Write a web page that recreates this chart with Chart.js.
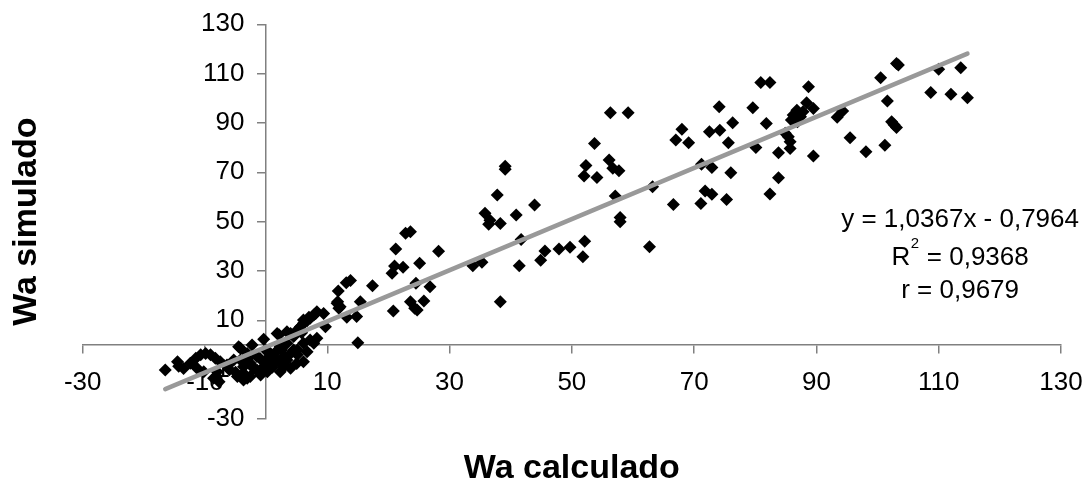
<!DOCTYPE html>
<html>
<head>
<meta charset="utf-8">
<title>Wa simulado vs Wa calculado</title>
<script src="https://cdn.jsdelivr.net/npm/chart.js@4.4.1/dist/chart.umd.min.js"></script>
<style>
    html, body { margin: 0; padding: 0; background: #fff; }
</style>
</head>
<body>
<canvas id="grafico" width="1087" height="484"></canvas>
<script>
// valores (Wa calculado, Wa simulado)
var calculado = [
    -16.5, -14.5, -14.3, -13.5, -12.4, -11.5, -11.3, -10.7, -10.2, -9.9,
    -9.1, -8.6, -8.3, -8.0, -7.7, -7.5, -6.4, -6.0, -5.3, -5.0,
    -4.7, -4.5, -4.2, -4.2, -3.7, -3.7, -3.7, -3.1, -3.1, -3.0,
    -2.6, -2.6, -2.3, -2.0, -1.5, -1.5, -1.0, -0.9, -0.4, -0.4,
    -0.1, 0.2, 0.0, 0.7, 0.7, 1.0, 1.2, 1.5, 1.8, 1.8,
    2.1, 2.3, 2.3, 2.3, 2.5, 2.9, 3.0, 3.4, 3.4, 3.4,
    4.0, 4.0, 4.0, 4.5, 4.5, 5.0, 5.1, 5.1, 5.1, 5.6,
    5.8, 6.1, 6.1, 6.1, 6.1, 6.7, 6.7, 7.0, 7.2, 7.2,
    7.8, 7.8, 8.1, 8.3, 8.3, 9.4, 9.7, 11.6, 11.7, 11.8,
    11.9, 12.1, 13.1, 13.2, 13.8, 14.8, 15.0, 15.4, 17.4, 20.6,
    20.8, 21.0, 21.2, 22.4, 22.8, 23.6, 23.6, 24.3, 24.5, 24.7,
    25.1, 25.8, 26.8, 28.2, 33.8, 35.3, 38.3, 35.8, 36.6, 36.4,
    37.8, 38.3, 39.1, 39.1, 40.9, 41.4, 41.7, 43.9, 44.9, 45.6,
    47.9, 49.7, 52.1, 51.8, 52.0, 52.3, 54.1, 53.7, 56.3, 59.2,
    56.1, 56.7, 57.7, 57.1, 57.9, 57.9, 62.7, 63.2, 66.6, 67.0,
    68.0, 69.1, 71.1, 71.8, 72.9, 71.2, 72.9, 72.5, 74.2, 74.1,
    75.6, 76.3, 76.0, 75.3, 79.6, 80.1, 80.9, 82.4, 81.8, 82.4,
    83.8, 83.8, 88.7, 88.4, 86.8, 86.2, 87.4, 87.8, 89.5, 85.9,
    86.9, 84.9, 85.4, 85.7, 85.7, 89.5, 93.4, 94.3, 95.5, 98.1,
    100.5, 103.1, 103.4, 101.6, 102.3, 103.1, 102.7, 101.2, 110.0, 113.6,
    108.7, 112.0, 114.7
];
var simulado = [
    -10.1, -6.8, -8.6, -9.5, -7.4, -5.4, -9.4, -4.0, -10.8, -3.4,
    -4.0, -13.5, -5.4, -10.8, -14.9, -6.8, -8.1, -10.0, -6.1, -11.0,
    -12.8, -0.7, -6.1, -1.3, -8.8, -11.5, -14.2, -3.4, -13.5, -5.5,
    -7.4, -12.8, 0.0, -9.5, -10.1, -4.7, -5.5, -12.2, -8.8, 2.3,
    -2.0, -10.8, -6.0, -7.4, -3.4, -9.0, -6.8, -3.0, -6.1, 4.7,
    4.2, -7.4, -10.8, -0.7, -2.0, -4.7, -8.5, -6.1, 0.7, 5.4,
    -3.4, -9.4, 4.7, -2.0, 3.4, -7.5, -2.0, -4.0, 6.1, 7.4,
    5.0, 0.7, -6.8, 8.8, 10.1, -2.7, 9.8, 11.2, 2.0, 10.8,
    0.7, 12.2, 12.8, 2.7, 13.5, 12.8, 7.4, 16.9, 17.5, 21.9,
    14.9, 15.5, 25.2, 11.2, 26.1, 11.5, 0.9, 17.5, 24.0, 29.1,
    13.8, 32.0, 38.9, 31.5, 45.3, 45.9, 17.5, 14.9, 25.0, 14.2,
    33.1, 17.8, 23.6, 38.0, 32.1, 33.5, 17.5, 53.4, 50.6, 48.9,
    60.8, 49.3, 72.5, 71.2, 52.7, 32.1, 42.8, 56.7, 34.4, 38.1,
    38.9, 39.6, 42.1, 35.8, 68.5, 72.8, 67.9, 81.7, 94.1, 94.1,
    75.0, 71.6, 70.6, 60.4, 51.7, 50.0, 39.8, 64.1, 57.0, 83.1,
    87.5, 82.0, 57.4, 62.4, 61.1, 73.3, 72.0, 86.4, 87.1, 96.6,
    82.0, 90.1, 69.8, 59.0, 96.2, 80.1, 106.4, 106.4, 89.8, 61.2,
    77.9, 67.8, 104.7, 98.2, 95.2, 93.2, 92.5, 94.5, 95.9, 91.2,
    90.5, 85.8, 84.4, 82.4, 79.7, 76.6, 92.3, 94.9, 84.0, 78.3,
    108.3, 114.1, 113.5, 98.9, 90.5, 88.2, 89.3, 81.0, 111.8, 112.4,
    102.4, 101.6, 100.2
];

var xTicks = [-30, -10, 10, 30, 50, 70, 90, 110, 130];
var yTicks = [-30, -10, 10, 30, 50, 70, 90, 110, 130];

// linea de tendencia del grafico
var pendiente = 1.0367;
var intercepto = -0.7964;
var r2 = 0.9368;
var r = 0.9679;

var fuente = '"Liberation Sans", Arial, sans-serif';
Chart.defaults.font.family = fuente;
Chart.defaults.color = '#000';

var puntos = calculado.map(function (x, i) { return { x: x, y: simulado[i] }; });
var xMin = Math.min.apply(null, calculado);
var xMax = Math.max.apply(null, calculado);
var tendencia = [
    { x: xMin, y: pendiente * xMin + intercepto },
    { x: xMax, y: pendiente * xMax + intercepto }
];

function coma(v) {
    return v.toFixed(4).replace('.', ',');
}

// texto de la ecuacion a la derecha
var ecuacion = {
    id: 'ecuacion',
    afterDatasetsDraw: function (chart) {
        var ctx = chart.ctx;
        var cx = chart.scales.x.getPixelForValue(113.5);
        var cy = chart.scales.y.getPixelForValue(50.6);
        ctx.save();
        ctx.fillStyle = '#000';
        ctx.textBaseline = 'middle';
        ctx.font = '26px ' + fuente;
        ctx.textAlign = 'center';
        ctx.fillText('y = ' + coma(pendiente) + 'x - ' + coma(-intercepto), cx, cy);
        ctx.fillText('r = ' + coma(r), cx, cy + 71);

        // R² con superindice
        var resto = ' = ' + coma(r2);
        var wR = ctx.measureText('R').width;
        var wResto = ctx.measureText(resto).width;
        ctx.font = '15px ' + fuente;
        var wSup = ctx.measureText('2').width + 1;
        var x0 = cx - (wR + wSup + wResto) / 2;
        ctx.textAlign = 'left';
        ctx.fillText('2', x0 + wR + 0.5, cy + 38 - 14);
        ctx.font = '26px ' + fuente;
        ctx.fillText('R', x0, cy + 38);
        ctx.fillText(resto, x0 + wR + wSup, cy + 38);
        ctx.restore();
    }
};

var ctx = document.getElementById('grafico').getContext('2d');

new Chart(ctx, {
    type: 'scatter',
    data: {
        datasets: [{
            label: 'Tendencia',
            data: tendencia,
            showLine: true,
            borderColor: '#999999',
            borderWidth: 4.5,
            borderCapStyle: 'round',
            pointRadius: 0,
            order: 0
        }, {
            label: 'Wa',
            data: puntos,
            pointStyle: 'rectRot',
            pointRadius: 6.5,
            pointBorderWidth: 0,
            backgroundColor: '#000',
            borderColor: '#000',
            order: 1
        }]
    },
    options: {
        responsive: false,
        animation: false,
        events: [],
        layout: {
            padding: { top: 24.3, right: 26, bottom: 0, left: 0 }
        },
        scales: {
            x: {
                type: 'linear',
                position: { y: 0 },
                min: -30,
                max: 130,
                afterBuildTicks: function (axis) {
                    axis.ticks = xTicks.map(function (v) { return { value: v }; });
                },
                grid: { drawOnChartArea: false, drawTicks: true, tickLength: 8, color: '#808080', lineWidth: 1.5 },
                border: { color: '#808080', width: 1.5 },
                // el padding de ticks tambien ensancha el margen derecho, asi que se baja la etiqueta con lineHeight
                ticks: { font: { size: 26, lineHeight: 2.3 }, padding: 0, maxRotation: 0, autoSkip: false }
            },
            y: {
                type: 'linear',
                position: { x: 0 },
                min: -30,
                max: 130,
                afterBuildTicks: function (axis) {
                    axis.ticks = yTicks.map(function (v) { return { value: v }; });
                },
                grid: { drawOnChartArea: false, drawTicks: true, tickLength: 8, color: '#808080', lineWidth: 1.5 },
                border: { color: '#808080', width: 1.5 },
                ticks: {
                    font: { size: 26 },
                    autoSkip: false,
                    // eje centrado: la etiqueta queda pegada al eje, se separa con espacios
                    callback: function (v) { return v + '   '; }
                }
            }
        },
        plugins: {
            legend: { display: false },
            tooltip: { enabled: false },
            title: {
                display: true,
                text: 'Wa calculado',
                position: 'bottom',
                fullSize: false,
                color: '#000',
                font: { size: 34, weight: 'bold', lineHeight: 0.9 },
                padding: { top: 34, bottom: 0.4 }
            },
            subtitle: {
                display: true,
                text: 'Wa simulado',
                position: 'left',
                fullSize: false,
                color: '#000',
                font: { size: 34, weight: 'bold', lineHeight: 0.9 },
                padding: { top: 11.4, bottom: 40.7 }
            }
        }
    },
    plugins: [ecuacion]
});
</script>
</body>
</html>
